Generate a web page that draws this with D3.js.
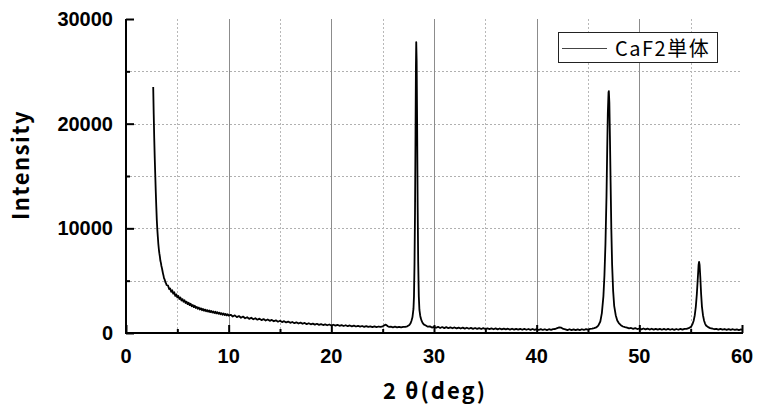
<!DOCTYPE html>
<html>
<head>
<meta charset="utf-8">
<script src="https://cdn.jsdelivr.net/npm/d3@7"></script>
<style>
  body { margin: 0; background: #fff; }
  .tickLabel { font-family: "Liberation Sans", Arial, sans-serif; font-weight: bold; font-size: 20px; fill: #000; }
  .axisTitle { font-family: "Noto Sans CJK JP", "Liberation Sans", sans-serif; font-weight: bold; font-size: 22px; fill: #000; }
  .legendText { font-family: "Noto Sans CJK JP", sans-serif; font-size: 20px; letter-spacing: 1.5px; fill: #000; }
</style>
</head>
<body>
<svg></svg>
<script>
var width = 758;
var height = 411;

var seriesName = "CaF2単体";
var xTicks = [0, 10, 20, 30, 40, 50, 60];
var xMinorTicks = [5, 15, 25, 35, 45, 55];
var yTicks = [0, 10000, 20000, 30000];
var yMinorTicks = [5000, 15000, 25000];

// [2theta, intensity]
var lowAngle = [
  [2.65,23500],[2.70,20900],[2.75,18600],[2.80,16700],[2.85,15100],[2.90,13500],[2.95,12100],
  [3.00,10800],[3.05,9900],[3.10,9200],[3.15,8500],[3.20,8000],[3.25,7600],[3.30,7300],
  [3.35,6900],[3.40,6700],[3.45,6400],[3.50,6200],[3.55,5950],[3.60,5700],[3.65,5500],
  [3.70,5250],[3.75,5150],[3.80,5000],[3.85,4820],[3.90,4750],[3.95,4600],[4.00,4560],
  [4.1,4520],[4.2,4200],[4.3,4260],[4.4,3930],[4.5,4080],[4.6,3760],[4.7,3890],[4.8,3540],
  [4.9,3690],[5.0,3400],[5.1,3530],[5.2,3250],[5.3,3390],[5.4,3110],[5.5,3240],[5.6,2990],
  [5.7,3130],[5.8,2870],[5.9,3000],[6.0,2760],[6.1,2900],[6.2,2660],[6.3,2790],[6.4,2560],
  [6.5,2680],[6.6,2470],[6.7,2600],[6.8,2390],[6.9,2500],[7.0,2320],[7.1,2430],[7.2,2250],
  [7.3,2360],[7.4,2180],[7.5,2300],[7.6,2130],[7.7,2240],[7.8,2080],[7.9,2190],[8.0,2040],
  [8.1,2150],[8.2,1990],[8.3,2110],[8.4,1950],[8.5,2060],[8.6,1910],[8.7,2030],[8.8,1870],
  [8.9,1990],[9.0,1830],[9.1,1950],[9.2,1790],[9.3,1900],[9.4,1750],[9.5,1860],[9.6,1710],
  [9.7,1830],[9.8,1680],[9.9,1790],[10.0,1660]
];

var background = [
  [10.2,1740],[10.4,1580],[10.6,1690],[10.8,1520],[11.0,1620],[11.2,1460],[11.4,1570],
  [11.6,1410],[11.8,1510],[12.0,1350],[12.2,1460],[12.4,1310],[12.6,1410],[12.8,1270],
  [13.0,1370],[13.2,1230],[13.4,1330],[13.6,1190],[13.8,1290],[14.0,1160],[14.2,1250],
  [14.4,1120],[14.6,1210],[14.8,1080],[15.0,1170],[15.2,1040],[15.4,1130],[15.6,1010],
  [15.8,1090],[16.0,970],[16.2,1050],[16.4,940],[16.6,1020],[16.8,910],[17.0,990],[17.2,880],
  [17.4,960],[17.6,850],[17.8,930],[18.0,830],[18.2,900],[18.4,800],[18.6,880],[18.8,780],
  [19.0,850],[19.2,760],[19.4,830],[19.6,740],[19.8,810],[20.0,720],[20.2,790],[20.4,700],
  [20.6,770],[20.8,690],[21.0,750],[21.2,670],[21.4,740],[21.6,650],[21.8,720],[22.0,640],
  [22.2,700],[22.4,620],[22.6,690],[22.8,610],[23.0,670],[23.2,590],[23.4,660],[23.6,580],
  [23.8,640],[24.0,570],[24.2,630],[24.4,560],[24.6,620],[24.8,580],[25.0,640],[25.1,700],
  [25.2,760],[25.3,790],[25.4,730],[25.5,650],[25.6,590],[25.8,600],[26.0,540],[26.2,600],
  [26.4,530],[26.6,590],[26.8,530],[27.0,580]
];

var peak111 = [
  [27.2,590],[27.4,640],[27.6,760],[27.7,900],[27.8,1150],[27.9,1500],[28.0,2300],
  [28.05,3500],[28.1,6500],[28.15,11500],[28.2,19000],[28.24,25500],[28.27,27800],
  [28.31,26000],[28.36,19500],[28.41,12000],[28.46,6800],[28.52,3500],[28.58,2200],
  [28.65,1700],[28.7,1450],[28.8,1150],[28.9,950],[29.0,820],[29.2,720],[29.4,600],
  [29.6,630],[29.8,520],[30.0,590]
];

var midRange = [
  [30.2,500],[30.4,590],[30.6,480],[30.8,570],[31.0,470],[31.2,560],[31.4,460],[31.6,540],
  [31.8,450],[32.0,530],[32.2,440],[32.4,520],[32.6,430],[32.8,510],[33.0,420],[33.2,500],
  [33.4,410],[33.6,490],[33.8,400],[34.0,480],[34.2,390],[34.4,470],[34.6,380],[34.8,460],
  [35.0,380],[35.2,450],[35.4,370],[35.6,440],[35.8,360],[36.0,440],[36.2,350],[36.4,430],
  [36.6,340],[36.8,420],[37.0,340],[37.2,410],[37.4,330],[37.6,410],[37.8,320],[38.0,400],
  [38.2,320],[38.4,390],[38.6,310],[38.8,390],[39.0,310],[39.2,380],[39.4,300],[39.6,380],
  [39.8,300],[40.0,370],[40.2,290],[40.4,370],[40.6,290],[40.8,360],[41.0,280],[41.2,360],
  [41.4,300],[41.6,370],[41.8,380],[42.0,470],[42.2,540],[42.4,510],[42.6,390],[42.8,350],
  [43.0,280],[43.2,360],[43.4,270],[43.6,350],[43.8,270],[44.0,350],[44.2,280],[44.4,360],
  [44.6,290],[44.8,370],[45.0,320],[45.2,400],[45.4,410]
];

var peak220 = [
  [45.6,460],[45.8,530],[46.0,700],[46.2,1100],[46.35,1900],[46.5,3500],[46.6,5500],
  [46.7,8500],[46.8,13000],[46.87,17500],[46.93,21000],[47.0,23000],[47.03,23100],
  [47.08,22000],[47.14,18500],[47.2,14500],[47.27,10000],[47.35,6500],[47.45,4000],
  [47.55,2600],[47.7,1700],[47.85,1200],[48.0,950],[48.2,750],[48.4,620],[48.6,560],
  [48.8,520],[49.0,440],[49.2,480],[49.4,400],[49.6,460],[49.8,380],[50.0,430]
];

var highAngle = [
  [50.2,350],[50.4,430],[50.6,340],[50.8,420],[51.0,330],[51.2,410],[51.4,320],[51.6,400],
  [51.8,320],[52.0,390],[52.2,310],[52.4,390],[52.6,310],[52.8,390],[53.0,310],[53.2,380],
  [53.4,300],[53.6,380],[53.8,310],[54.0,390],[54.2,320],[54.4,400],[54.6,390],[54.8,470],
  [55.0,560]
];

var peak311 = [
  [55.1,700],[55.2,900],[55.3,1200],[55.4,1700],[55.5,2500],[55.6,3700],[55.7,5300],
  [55.77,6500],[55.82,6800],[55.87,6500],[55.94,5300],[56.02,3700],[56.1,2500],[56.2,1700],
  [56.3,1200],[56.4,900],[56.5,720],[56.7,560],[56.9,470],[57.1,430],[57.3,360],[57.5,400],
  [57.7,330],[57.9,390],[58.1,320],[58.3,380],[58.5,300],[58.7,370],[58.9,300],[59.1,360],
  [59.3,290],[59.5,350],[59.7,280],[59.9,340],[60.0,300]
];

var scan = lowAngle.concat(background, peak111, midRange, peak220, highAngle, peak311);

var plotLeft = 126, plotRight = 742, plotTop = 19, plotBottom = 333;

var x = d3.scaleLinear().domain([0, 60]).range([plotLeft, plotRight]);
var y = d3.scaleLinear().domain([0, 30000]).range([plotBottom, plotTop]);

var svg = d3.select("svg").attr("width", width).attr("height", height);

// grid
var grid = svg.append("g").attr("class", "grid");
grid.selectAll("line.hgrid").data(yMinorTicks.concat([10000, 20000]))
  .enter().append("line")
  .attr("class", "hgrid")
  .attr("x1", plotLeft).attr("x2", plotRight)
  .attr("y1", function(d){ return Math.round(y(d)) + 0.5; })
  .attr("y2", function(d){ return Math.round(y(d)) + 0.5; })
  .attr("stroke", "#b0b0b0").attr("stroke-width", 1).attr("stroke-dasharray", "2,2");

grid.selectAll("line.vminor").data(xMinorTicks)
  .enter().append("line")
  .attr("class", "vminor")
  .attr("x1", function(d){ return Math.round(x(d)) + 0.5; })
  .attr("x2", function(d){ return Math.round(x(d)) + 0.5; })
  .attr("y1", plotTop).attr("y2", plotBottom)
  .attr("stroke", "#b8b8b8").attr("stroke-width", 1).attr("stroke-dasharray", "2,2");

grid.selectAll("line.vmajor").data(xTicks.slice(1, -1))
  .enter().append("line")
  .attr("class", "vmajor")
  .attr("x1", function(d){ return Math.round(x(d)) + 0.5; })
  .attr("x2", function(d){ return Math.round(x(d)) + 0.5; })
  .attr("y1", plotTop).attr("y2", plotBottom)
  .attr("stroke", "#8c8c8c").attr("stroke-width", 1);

// data
var line = d3.line()
  .x(function(d){ return x(d[0]); })
  .y(function(d){ return y(d[1]); });

svg.append("path")
  .datum(scan)
  .attr("d", line)
  .attr("fill", "none")
  .attr("stroke", "#000")
  .attr("stroke-width", 1.8)
  .attr("stroke-linejoin", "round");

// axes
var xAxis = d3.axisBottom(x).tickValues(xTicks).tickSize(-8).tickFormat("");
var xAxisMinor = d3.axisBottom(x).tickValues(xMinorTicks).tickSize(-4).tickFormat("");
var yAxis = d3.axisLeft(y).tickValues(yTicks).tickSize(-8).tickFormat("");
var yAxisMinor = d3.axisLeft(y).tickValues(yMinorTicks).tickSize(-4).tickFormat("");

function styleAxis(g){
  g.select(".domain").remove();
  g.selectAll(".tick line").attr("stroke", "#000").attr("stroke-width", 2);
}

svg.append("g").attr("transform", "translate(0," + plotBottom + ")").call(xAxis).call(styleAxis);
svg.append("g").attr("transform", "translate(0," + plotBottom + ")").call(xAxisMinor).call(styleAxis);
svg.append("g").attr("transform", "translate(" + plotLeft + ",0)").call(yAxis).call(styleAxis);
svg.append("g").attr("transform", "translate(" + plotLeft + ",0)").call(yAxisMinor).call(styleAxis);

svg.append("line")
  .attr("x1", plotLeft).attr("x2", plotLeft).attr("y1", plotTop).attr("y2", plotBottom + 1)
  .attr("stroke", "#000").attr("stroke-width", 2);
svg.append("line")
  .attr("x1", plotLeft - 1).attr("x2", plotRight + 1).attr("y1", plotBottom).attr("y2", plotBottom)
  .attr("stroke", "#000").attr("stroke-width", 2);

// tick labels
svg.selectAll("text.xlab").data(xTicks)
  .enter().append("text")
  .attr("class", "tickLabel xlab")
  .attr("x", function(d){ return x(d); })
  .attr("y", plotBottom + 30)
  .attr("text-anchor", "middle")
  .text(function(d){ return d; });

svg.selectAll("text.ylab").data(yTicks)
  .enter().append("text")
  .attr("class", "tickLabel ylab")
  .attr("x", plotLeft - 13)
  .attr("y", function(d){ return y(d) + 7; })
  .attr("text-anchor", "end")
  .text(function(d){ return d; });

// axis titles
svg.append("text")
  .attr("class", "axisTitle")
  .attr("x", 435)
  .attr("y", 399)
  .attr("text-anchor", "middle")
  .attr("letter-spacing", "2px")
  .text("2 \u03B8(deg)");

svg.append("text")
  .attr("class", "axisTitle")
  .attr("transform", "translate(29,165) rotate(-90)")
  .attr("text-anchor", "middle")
  .attr("letter-spacing", "1.5px")
  .text("Intensity");

// legend
var legend = svg.append("g").attr("class", "legend");
legend.append("rect")
  .attr("x", 558.5).attr("y", 32.5).attr("width", 159).attr("height", 30)
  .attr("fill", "#fff").attr("stroke", "#222").attr("stroke-width", 1);
legend.append("line")
  .attr("x1", 562).attr("x2", 607).attr("y1", 48.5).attr("y2", 48.5)
  .attr("stroke", "#444").attr("stroke-width", 1);
legend.append("text")
  .attr("class", "legendText")
  .attr("x", 615).attr("y", 55.5)
  .text(seriesName);
</script>
</body>
</html>
